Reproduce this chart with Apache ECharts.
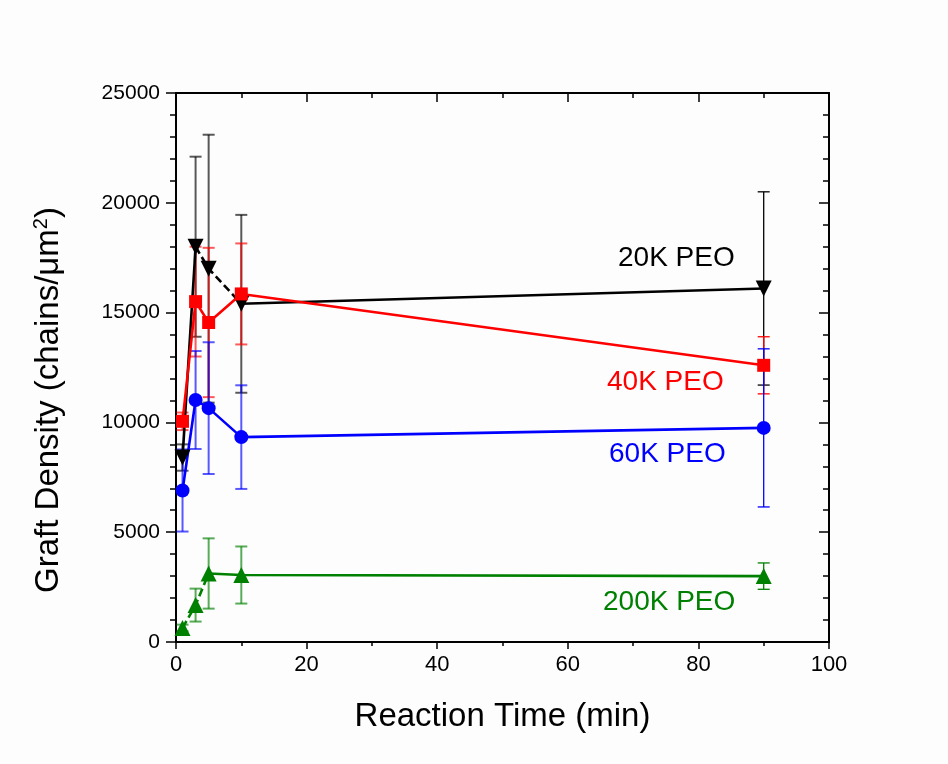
<!DOCTYPE html>
<html>
<head>
<meta charset="utf-8">
<script src="https://cdn.jsdelivr.net/npm/echarts@6/dist/echarts.min.js"></script>
<style>
  html, body { margin: 0; padding: 0; background: #fdfdfd; }
  #chart { width: 948px; height: 764px; }
</style>
</head>
<body>
<div id="chart"></div>
<script>
// 反应时间 (min)
var times = [1, 3, 5, 10, 90];
// 接枝密度 + 误差
var peo20k = [8400, 18000, 17000, 15400, 16100];
var peo20kErr = [600, 4100, 6100, 4050, 4400];
var peo40k = [10050, 15500, 14550, 15850, 12600];
var peo40kErr = [400, 2500, 3400, 2300, 1300];
var peo60k = [6900, 11020, 10650, 9330, 9750];
var peo60kErr = [1870, 2230, 3000, 2360, 3600];
var peo200k = [640, 1680, 3120, 3050, 3000];
var peo200kErr = [150, 750, 1600, 1300, 600];
var seriesNames = ["20K PEO", "40K PEO", "60K PEO", "200K PEO"];
var yTicks = [0, 5000, 10000, 15000, 20000, 25000];

var FONT = "Liberation Sans";

function pts(vals, from, to) {
  var out = [];
  for (var i = from; i <= to; i++) out.push([times[i], vals[i]]);
  return out;
}

// 线段：实线/虚线
function seg(vals, color, from, to, dashed) {
  return {
    type: "line",
    data: pts(vals, from, to),
    symbol: "none",
    lineStyle: { color: color, width: 2.6, type: dashed ? [8, 4] : "solid" },
    z: 3,
    silent: true
  };
}

function marks(vals, color, symbol, size, rotate) {
  return {
    type: "scatter",
    data: pts(vals, 0, vals.length - 1),
    symbol: symbol,
    symbolSize: size,
    symbolRotate: rotate || 0,
    itemStyle: { color: color, opacity: 1 },
    z: 5
  };
}

// 误差棒
function errBars(vals, errs, color) {
  var data = [];
  for (var i = 0; i < vals.length; i++) {
    data.push([times[i], vals[i] - errs[i], vals[i] + errs[i]]);
  }
  return {
    type: "custom",
    data: data,
    z: 2,
    silent: true,
    renderItem: function (params, api) {
      var x = api.value(0);
      var lo = api.coord([x, api.value(1)]);
      var hi = api.coord([x, api.value(2)]);
      var late = x > 20;
      var w = late ? 1.3 : 2;
      var half = 6;
      var st = { stroke: color, lineWidth: w, opacity: late ? 1 : 0.65 };
      return {
        type: "group",
        children: [
          { type: "line", shape: { x1: lo[0], y1: lo[1], x2: hi[0], y2: hi[1] }, style: st },
          { type: "line", shape: { x1: lo[0] - half, y1: lo[1], x2: lo[0] + half, y2: lo[1] }, style: st },
          { type: "line", shape: { x1: hi[0] - half, y1: hi[1], x2: hi[0] + half, y2: hi[1] }, style: st }
        ]
      };
    }
  };
}

var BLACK = "#000000", RED = "#ff0000", BLUE = "#0000ff", GREEN = "#008000";

var option = {
  backgroundColor: "#fdfdfd",
  animation: false,
  grid: { left: 176, right: 119, top: 93, bottom: 122 },
  xAxis: [
    {
      type: "value", min: 0, max: 100, interval: 20,
      name: "Reaction Time (min)", nameLocation: "middle", nameGap: 58,
      nameTextStyle: { fontFamily: FONT, fontSize: 33, color: "#000" },
      axisLine: { onZero: false, lineStyle: { color: "#000", width: 2 } },
      axisTick: { show: true, length: 7, lineStyle: { color: "#000", width: 1.5 } },
      minorTick: { show: true, splitNumber: 2, length: 4, lineStyle: { color: "#000", width: 1.5 } },
      axisLabel: { fontFamily: FONT, fontSize: 22, color: "#000", margin: 12 },
      splitLine: { show: false }
    },
    {
      type: "value", min: 0, max: 100, interval: 20, position: "top",
      axisLine: { show: true, onZero: false, lineStyle: { color: "#000", width: 2 } },
      axisTick: { show: true, inside: true, length: 9, lineStyle: { color: "#000", width: 1.5 } },
      minorTick: { show: true, splitNumber: 2, length: 5, lineStyle: { color: "#000", width: 1.5 } },
      axisLabel: { show: false },
      splitLine: { show: false }
    }
  ],
  yAxis: [
    {
      type: "value", min: 0, max: 25000, interval: 5000,
      axisLine: { show: true, onZero: false, lineStyle: { color: "#000", width: 2 } },
      axisTick: { show: true, length: 10, lineStyle: { color: "#000", width: 1.5 } },
      minorTick: { show: true, splitNumber: 5, length: 6, lineStyle: { color: "#000", width: 1.5 } },
      axisLabel: {
        fontFamily: FONT, fontSize: 21, color: "#000", margin: 16,
        formatter: function (v) { return yTicks.indexOf(v) >= 0 ? String(v) : ""; }
      },
      splitLine: { show: false }
    },
    {
      type: "value", min: 0, max: 25000, interval: 5000, position: "right",
      axisLine: { show: true, onZero: false, lineStyle: { color: "#000", width: 2 } },
      axisTick: { show: true, inside: true, length: 10, lineStyle: { color: "#000", width: 1.5 } },
      minorTick: { show: true, splitNumber: 5, length: 6, lineStyle: { color: "#000", width: 1.5 } },
      axisLabel: { show: false },
      splitLine: { show: false }
    }
  ],
  graphic: [
    {
      type: "text", x: 49, y: 400, rotation: Math.PI / 2,
      style: {
        text: "{a|Graft Density (chains/μm}{s|2}{a|)}",
        align: "center", verticalAlign: "middle",
        rich: {
          a: { fontFamily: FONT, fontSize: 33, fill: "#000" },
          s: { fontFamily: FONT, fontSize: 20, fill: "#000", verticalAlign: "top", padding: [0, 0, 16, 0] }
        }
      }
    },
    { type: "text", left: 618, top: 244, style: { text: seriesNames[0], fill: BLACK, font: "28px " + FONT } },
    { type: "text", left: 607, top: 368, style: { text: seriesNames[1], fill: RED, font: "28px " + FONT } },
    { type: "text", left: 609, top: 440, style: { text: seriesNames[2], fill: BLUE, font: "28px " + FONT } },
    { type: "text", left: 603, top: 588, style: { text: seriesNames[3], fill: GREEN, font: "28px " + FONT } }
  ],
  series: [
    errBars(peo20k, peo20kErr, BLACK),
    errBars(peo40k, peo40kErr, RED),
    errBars(peo60k, peo60kErr, BLUE),
    errBars(peo200k, peo200kErr, GREEN),

    seg(peo20k, BLACK, 0, 1, false),
    seg(peo20k, BLACK, 1, 3, true),
    seg(peo20k, BLACK, 3, 4, false),

    seg(peo40k, RED, 0, 4, false),
    seg(peo60k, BLUE, 0, 4, false),

    seg(peo200k, GREEN, 0, 2, true),
    seg(peo200k, GREEN, 2, 4, false),

    marks(peo20k, BLACK, "triangle", 16, 180),
    marks(peo40k, RED, "rect", 13),
    marks(peo60k, BLUE, "circle", 14),
    marks(peo200k, GREEN, "triangle", 16)
  ]
};

var chartObj = echarts.init(document.getElementById("chart"));
chartObj.setOption(option);
window.addEventListener("resize", function () { chartObj.resize(); });
</script>
</body>
</html>
